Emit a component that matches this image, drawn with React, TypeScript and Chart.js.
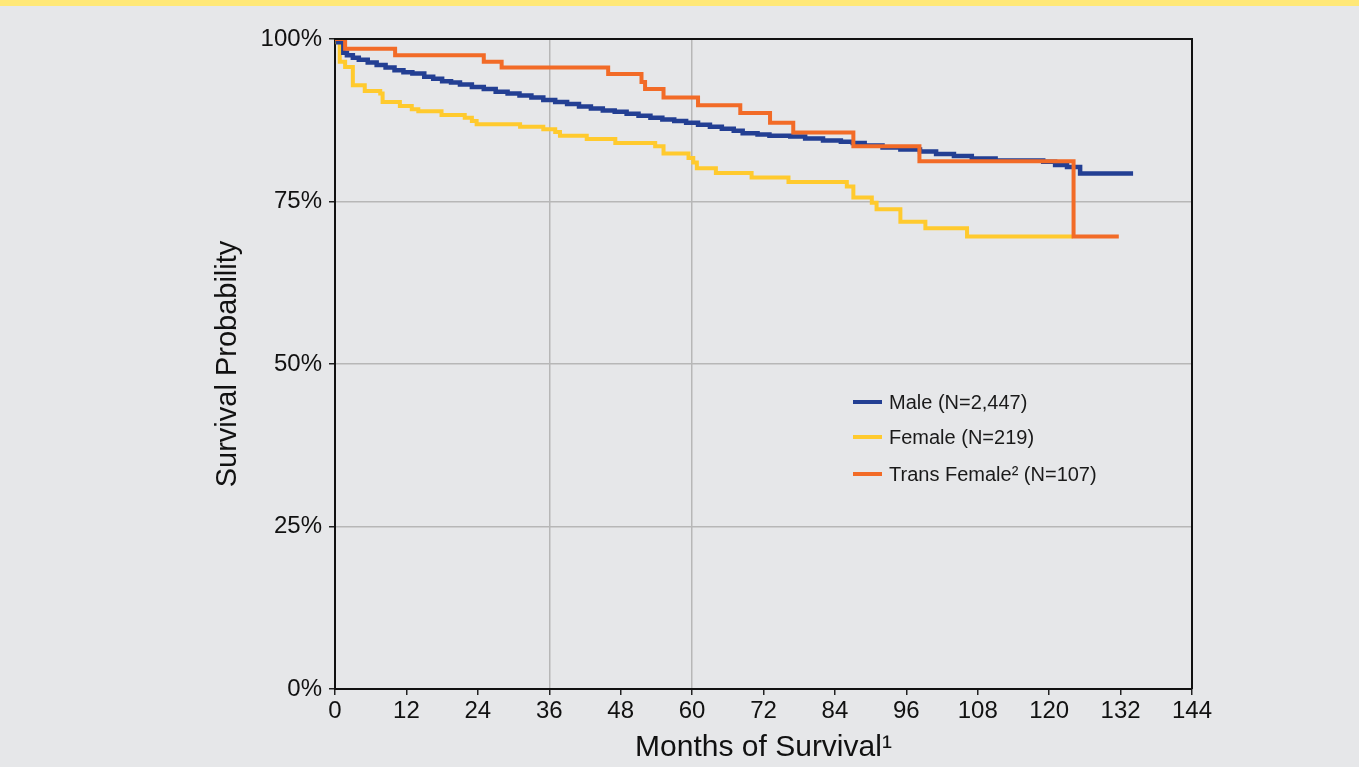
import React, { useEffect, useRef } from "react";
import { Chart, registerables } from "chart.js";

Chart.register(...registerables);

// ---- Data (months, survival %) ----
const maleMonths = [0, 0.5, 1.4, 2, 3, 4, 5.5, 7, 8.5, 10, 11.5, 13, 15, 16.5, 18, 19.5, 21, 23, 25, 27, 29, 31, 33, 35, 37, 39, 41, 43, 45, 47, 49, 51, 53, 55, 57, 59, 61, 63, 65, 67, 68.5, 71, 73, 76.5, 79, 82, 85, 87, 89, 92, 95, 98.3, 101, 104, 107, 111, 119, 121, 123, 125.2, 134.1];
const maleSurvival = [100, 99.5, 97.9, 97.5, 97.1, 96.8, 96.4, 96.0, 95.6, 95.2, 94.9, 94.7, 94.2, 93.9, 93.5, 93.3, 93.0, 92.6, 92.3, 91.9, 91.6, 91.3, 91.0, 90.6, 90.3, 90.0, 89.6, 89.3, 89.0, 88.8, 88.5, 88.2, 87.9, 87.6, 87.4, 87.1, 86.8, 86.5, 86.2, 85.9, 85.5, 85.3, 85.1, 85.0, 84.7, 84.4, 84.2, 84.0, 83.6, 83.3, 83.0, 82.7, 82.3, 82.0, 81.6, 81.3, 81.1, 80.6, 80.3, 79.3, 79.3];

const femaleMonths = [0, 0.4, 0.8, 1.7, 3, 5, 7.6, 8, 10.9, 12.9, 14, 17.9, 21.8, 23, 23.8, 31.1, 35, 37, 37.8, 42.3, 47.1, 53.8, 55.2, 59.4, 60.2, 60.8, 64, 70, 76.2, 86, 87.1, 90.2, 91, 95, 99.2, 106.2, 124];
const femaleSurvival = [100, 99.5, 96.5, 95.7, 92.9, 92.0, 91.6, 90.3, 89.7, 89.2, 88.9, 88.3, 87.9, 87.4, 86.9, 86.5, 86.1, 85.7, 85.1, 84.6, 84.0, 83.5, 82.4, 81.7, 81.0, 80.1, 79.4, 78.7, 78.0, 77.3, 75.6, 74.8, 73.8, 71.9, 70.9, 69.6, 69.6];

const transMonths = [0, 1.7, 10.1, 25, 28, 45.9, 51.5, 52.1, 55.2, 61, 68.1, 73.1, 77, 87.1, 98.2, 124.1, 131.7];
const transSurvival = [100, 98.5, 97.5, 96.5, 95.6, 94.6, 93.4, 92.3, 91.0, 89.8, 88.6, 87.1, 85.6, 83.5, 81.2, 69.6, 69.6];

const seriesLabels = ["Male (N=2,447)", "Female (N=219)", "Trans Female\u00B2 (N=107)"];
const xTickValues = [0, 12, 24, 36, 48, 60, 72, 84, 96, 108, 120, 132, 144];
const yTickValues = [0, 25, 50, 75, 100];
const xGridMonths = [36, 60];

const FONT = "'Liberation Sans', Arial, Helvetica, sans-serif";
const COLORS = { male: "#233f93", female: "#ffca2e", trans: "#f26b27" };

const toPoints = (xs: number[], ys: number[]) => xs.map((x, i) => ({ x, y: ys[i] }));

const framePlugin = {
  id: "frameAndLegend",
  afterDraw(chart: any) {
    const { ctx, chartArea } = chart;
    const { left, right, top, bottom } = chartArea;
    ctx.save();
    ctx.strokeStyle = "#111";
    ctx.lineWidth = 2;
    ctx.beginPath();
    ctx.moveTo(left, top);
    ctx.lineTo(right, top);
    ctx.lineTo(right, bottom);
    ctx.stroke();

    // legend inside plot
    const lx = 853;
    const ys = [402, 437, 474];
    const order = [1, 2, 0]; // map legend rows to dataset indexes
    order.forEach((dsIndex, row) => {
      const ds = chart.data.datasets[dsIndex];
      ctx.strokeStyle = ds.borderColor;
      ctx.lineWidth = 4;
      ctx.beginPath();
      ctx.moveTo(lx, ys[row]);
      ctx.lineTo(lx + 29, ys[row]);
      ctx.stroke();
      ctx.fillStyle = "#1a1a1a";
      ctx.font = `20px ${FONT}`;
      ctx.textBaseline = "middle";
      ctx.textAlign = "left";
      ctx.fillText(ds.label, lx + 36, ys[row] + 1);
    });
    ctx.restore();
  },
};

export default function App() {
  const canvasRef = useRef<HTMLCanvasElement | null>(null);

  useEffect(() => {
    document.body.style.margin = "0";
    const canvas = canvasRef.current;
    if (!canvas) return;
    const chart = new Chart(canvas, {
      type: "line",
      data: {
        datasets: [
          {
            label: seriesLabels[2],
            data: toPoints(transMonths, transSurvival),
            borderColor: COLORS.trans,
            borderWidth: 4,
            stepped: "before",
            pointRadius: 0,
            fill: false,
            order: 0,
          },
          {
            label: seriesLabels[0],
            data: toPoints(maleMonths, maleSurvival),
            borderColor: COLORS.male,
            borderWidth: 4.5,
            stepped: "before",
            pointRadius: 0,
            fill: false,
            order: 1,
          },
          {
            label: seriesLabels[1],
            data: toPoints(femaleMonths, femaleSurvival),
            borderColor: COLORS.female,
            borderWidth: 4,
            stepped: "before",
            pointRadius: 0,
            fill: false,
            order: 2,
          },
        ],
      },
      options: {
        animation: false,
        responsive: false,
        maintainAspectRatio: false,
        layout: { padding: { left: 0, top: 39, right: 167, bottom: 0 } },
        plugins: { legend: { display: false }, tooltip: { enabled: false } },
        scales: {
          x: {
            type: "linear",
            min: 0,
            max: 144,
            afterBuildTicks: (s: any) => {
              s.ticks = xTickValues.map((v) => ({ value: v }));
            },
            afterFit: (s: any) => {
              s.height = 78;
            },
            grid: {
              color: (c: any) => (xGridMonths.includes(c.tick?.value) ? "#b7b7b7" : "rgba(0,0,0,0)"),
              lineWidth: 1.5,
              tickColor: "#222",
              tickWidth: 1.5,
              tickLength: 6,
            },
            border: { display: true, color: "#111", width: 2 },
            ticks: {
              color: "#111",
              font: { family: FONT, size: 24 },
              padding: 2,
              maxRotation: 0,
              autoSkip: false,
            },
            title: {
              display: true,
              text: "Months of Survival\u00B9",
              color: "#111",
              font: { family: FONT, size: 30 },
              padding: { top: 0, bottom: 1 },
            },
          },
          y: {
            type: "linear",
            min: 0,
            max: 100,
            afterBuildTicks: (s: any) => {
              s.ticks = yTickValues.map((v) => ({ value: v }));
            },
            afterFit: (s: any) => {
              s.width = 335;
            },
            grid: {
              color: (c: any) =>
                c.tick && c.tick.value > 0 && c.tick.value < 100 ? "#b7b7b7" : "rgba(0,0,0,0)",
              lineWidth: 1.5,
              tickColor: "#222",
              tickWidth: 1.5,
              tickLength: 6,
            },
            border: { display: true, color: "#111", width: 2 },
            ticks: {
              color: "#111",
              font: { family: FONT, size: 24 },
              padding: 7,
              callback: (v: any) => `${v}%`,
            },
            title: {
              display: true,
              text: "Survival Probability",
              color: "#111",
              font: { family: FONT, size: 29 },
              padding: { top: 211, bottom: 0 },
            },
          },
        },
      },
      plugins: [framePlugin],
    });
    return () => chart.destroy();
  }, []);

  return (
    <div
      style={{
        position: "relative",
        width: 1359,
        height: 767,
        background: "#e6e7e9",
        overflow: "hidden",
      }}
    >
      <canvas ref={canvasRef} width={1359} height={767} style={{ display: "block" }} />
      <div
        style={{
          position: "absolute",
          left: 0,
          top: 0,
          width: 1359,
          height: 6,
          background: "#ffe877",
        }}
      />
    </div>
  );
}
